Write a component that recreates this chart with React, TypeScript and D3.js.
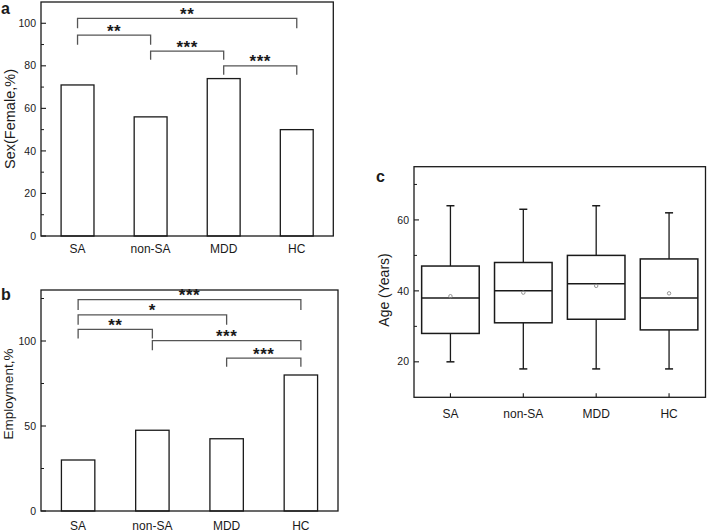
import React from "react";
import * as d3 from "d3";

const categories = ["SA", "non-SA", "MDD", "HC"];

// Panel a: Sex (Female, %)
const sexFemale = [71, 56, 74, 50];
const sexTicks = [0, 20, 40, 60, 80, 100];
const sexMinor = [10, 30, 50, 70, 90];
const sexBrackets = [
  { from: "SA", to: "HC", top: 102.3, leg: 97.7, label: "**" },
  { from: "SA", to: "non-SA", top: 94.4, leg: 89.9, label: "**" },
  { from: "non-SA", to: "MDD", top: 86.9, leg: 82.8, label: "***" },
  { from: "MDD", to: "HC", top: 80, leg: 75.8, label: "***" },
];

// Panel b: Employment, %
const employment = [30, 47.5, 42.5, 80];
const empTicks = [0, 50, 100];
const empMinor = [25, 75, 125];
const empBrackets = [
  { from: "SA", to: "HC", top: 124.3, leg: 118.3, label: "***" },
  { from: "SA", to: "MDD", top: 115.4, leg: 109.5, label: "*" },
  { from: "SA", to: "non-SA", top: 106.8, leg: 101.5, label: "**" },
  { from: "non-SA", to: "HC", top: 100.2, leg: 94.6, label: "***" },
  { from: "MDD", to: "HC", top: 89.9, leg: 84.8, label: "***" },
];

// Panel c: Age (Years) box plot
const ageMin = [20, 18, 18, 18];
const ageQ1 = [28, 31, 32, 29];
const ageMedian = [38, 40, 42, 38];
const ageMean = [38.5, 39.5, 41.4, 39.3];
const ageQ3 = [47, 48, 50, 49];
const ageMax = [64, 63, 64, 62];
const ageTicks = [20, 40, 60];
const ageMinor = [30, 50, 70];

const FONT = "'Liberation Sans', Arial, Helvetica, sans-serif";
const INK = "#1a1a1a";
const BRACKET = "#555";

type Bracket = { from: string; to: string; top: number; leg: number; label: string };

function Frame({ x0, x1, y0, y1 }: { x0: number; x1: number; y0: number; y1: number }) {
  return (
    <rect x={x0} y={y0} width={x1 - x0} height={y1 - y0} fill="none" stroke={INK} strokeWidth={1.3} />
  );
}

function YAxis({ y, x0, ticks, minor }: { y: d3.ScaleLinear<number, number>; x0: number; ticks: number[]; minor: number[] }) {
  return (
    <g>
      {ticks.map((t) => (
        <g key={"t" + t}>
          <line x1={x0} x2={x0 + 5} y1={y(t)} y2={y(t)} stroke={INK} strokeWidth={1.1} />
          <text x={x0 - 5} y={y(t)} dy="0.35em" textAnchor="end" fontSize={10.5} fontFamily={FONT} fill={INK}>
            {t}
          </text>
        </g>
      ))}
      {minor.map((t) => (
        <line key={"m" + t} x1={x0} x2={x0 + 3} y1={y(t)} y2={y(t)} stroke={INK} strokeWidth={1} />
      ))}
    </g>
  );
}

function Brackets({ x, y, brackets }: { x: d3.ScaleBand<string>; y: d3.ScaleLinear<number, number>; brackets: Bracket[] }) {
  const c = (k: string) => (x(k) as number) + x.bandwidth() / 2;
  return (
    <g>
      {brackets.map((b, i) => {
        const xa = c(b.from);
        const xb = c(b.to);
        const yt = y(b.top);
        const yl = y(b.leg);
        const path = d3.path();
        path.moveTo(xa, yl);
        path.lineTo(xa, yt);
        path.lineTo(xb, yt);
        path.lineTo(xb, yl);
        return (
          <g key={i}>
            <path d={path.toString()} fill="none" stroke={BRACKET} strokeWidth={1.3} />
            <text
              x={(xa + xb) / 2}
              y={yt + 1.5}
              textAnchor="middle"
              fontSize={17}
              fontWeight="bold"
              fontFamily={FONT}
              fill={INK}
              letterSpacing={0.5}
            >
              {b.label}
            </text>
          </g>
        );
      })}
    </g>
  );
}

function BarPanel({
  x0, x1, y0, y1, domainMax, values, ticks, minor, brackets, yLabel, yLabelX, yLabelY, yLabelSize, panel, panelX, panelY, xLabelY,
}: {
  x0: number; x1: number; y0: number; y1: number; domainMax: number; values: number[]; ticks: number[]; minor: number[];
  brackets: Bracket[]; yLabel: string; yLabelX: number; yLabelY: number; yLabelSize: number; panel: string; panelX: number; panelY: number; xLabelY: number;
}) {
  const x = d3.scaleBand<string>().domain(categories).range([x0, x1]).padding(0);
  const y = d3.scaleLinear().domain([0, domainMax]).range([y1, y0]);
  const bw = x.bandwidth() * 0.45;
  return (
    <g>
      {categories.map((cat, i) => {
        const cx = (x(cat) as number) + x.bandwidth() / 2;
        return (
          <rect key={cat} x={cx - bw / 2} y={y(values[i])} width={bw} height={y(0) - y(values[i])} fill="#fff" stroke={INK} strokeWidth={1.3} />
        );
      })}
      <Brackets x={x} y={y} brackets={brackets} />
      <Frame x0={x0} x1={x1} y0={y0} y1={y1} />
      <YAxis y={y} x0={x0} ticks={ticks} minor={minor} />
      {categories.map((cat) => (
        <text key={"l" + cat} x={(x(cat) as number) + x.bandwidth() / 2} y={xLabelY} textAnchor="middle" fontSize={12} fontFamily={FONT} fill={INK}>
          {cat}
        </text>
      ))}
      <text transform={`translate(${yLabelX},${yLabelY}) rotate(-90)`} textAnchor="middle" fontSize={yLabelSize} fontFamily={FONT} fill={INK}>
        {yLabel}
      </text>
      <text x={panelX} y={panelY} fontSize={16} fontWeight="bold" fontFamily={FONT} fill={INK}>
        {panel}
      </text>
    </g>
  );
}

function BoxPanel() {
  const x0 = 414, x1 = 705.5, y0 = 166.7, y1 = 397.3;
  const x = d3.scaleBand<string>().domain(categories).range([x0, x1]).padding(0);
  const y = d3.scaleLinear().domain([10, 75]).range([y1, y0]);
  const bw = x.bandwidth() * 0.79;
  const cap = 8;
  return (
    <g>
      {categories.map((cat, i) => {
        const cx = (x(cat) as number) + x.bandwidth() / 2;
        return (
          <g key={cat}>
            <line x1={cx} x2={cx} y1={y(ageMax[i])} y2={y(ageQ3[i])} stroke={INK} strokeWidth={1.3} />
            <line x1={cx} x2={cx} y1={y(ageQ1[i])} y2={y(ageMin[i])} stroke={INK} strokeWidth={1.3} />
            <line x1={cx - cap / 2} x2={cx + cap / 2} y1={y(ageMax[i])} y2={y(ageMax[i])} stroke={INK} strokeWidth={1.5} />
            <line x1={cx - cap / 2} x2={cx + cap / 2} y1={y(ageMin[i])} y2={y(ageMin[i])} stroke={INK} strokeWidth={1.5} />
            <rect x={cx - bw / 2} y={y(ageQ3[i])} width={bw} height={y(ageQ1[i]) - y(ageQ3[i])} fill="#fff" stroke={INK} strokeWidth={1.5} />
            <line x1={cx - bw / 2} x2={cx + bw / 2} y1={y(ageMedian[i])} y2={y(ageMedian[i])} stroke={INK} strokeWidth={1.5} />
            <circle cx={cx} cy={y(ageMean[i])} r={1.7} fill="none" stroke="#888" strokeWidth={0.9} />
            <line x1={cx} x2={cx} y1={y1} y2={y1 - 4} stroke={INK} strokeWidth={1.1} />
            <text x={cx} y={418} textAnchor="middle" fontSize={12} fontFamily={FONT} fill={INK}>
              {cat}
            </text>
          </g>
        );
      })}
      <Frame x0={x0} x1={x1} y0={y0} y1={y1} />
      <YAxis y={y} x0={x0} ticks={ageTicks} minor={ageMinor} />
      <text transform={`translate(389,290) rotate(-90)`} textAnchor="middle" fontSize={14} fontFamily={FONT} fill={INK}>
        Age (Years)
      </text>
      <text x={376} y={181.5} fontSize={16} fontWeight="bold" fontFamily={FONT} fill={INK}>
        c
      </text>
    </g>
  );
}

export default function App() {
  return (
    <svg width={709} height={532} style={{ position: "absolute", left: 0, top: 0, background: "#fff" }}>
      <rect x={0} y={0} width={709} height={532} fill="#fff" />
      <BarPanel
        x0={41} x1={333.3} y0={2} y1={236} domainMax={110}
        values={sexFemale} ticks={sexTicks} minor={sexMinor} brackets={sexBrackets}
        yLabel="Sex(Female,%)" yLabelX={15} yLabelY={119} yLabelSize={14.5}
        panel="a" panelX={1} panelY={14} xLabelY={253}
      />
      <BarPanel
        x0={41} x1={338} y0={290} y1={511} domainMax={130}
        values={employment} ticks={empTicks} minor={empMinor} brackets={empBrackets}
        yLabel="Employment,%" yLabelX={13} yLabelY={394} yLabelSize={13.5}
        panel="b" panelX={1} panelY={300} xLabelY={530}
      />
      <BoxPanel />
    </svg>
  );
}
